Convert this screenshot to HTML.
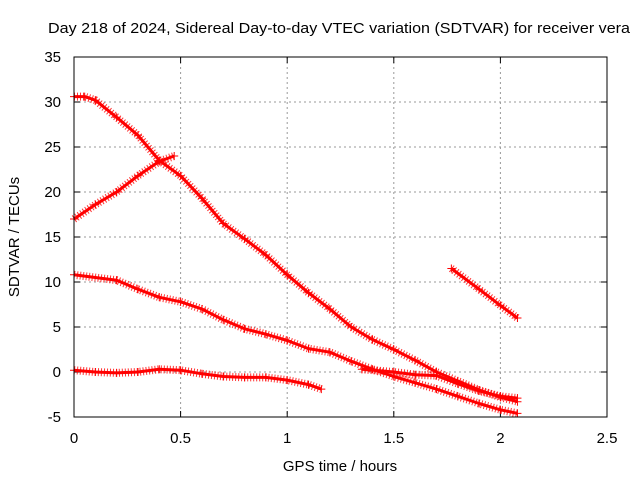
<!DOCTYPE html>
<html><head><meta charset="utf-8"><style>
body{margin:0;background:#fff;}
svg{display:block;font-family:"Liberation Sans",sans-serif;}
</style></head><body>
<svg id="chart" width="640" height="480">
<text x="339" y="33" text-anchor="middle" font-size="15" textLength="582" lengthAdjust="spacingAndGlyphs">Day 218 of 2024, Sidereal Day-to-day VTEC variation (SDTVAR) for receiver vera</text>
<text x="340" y="471" text-anchor="middle" font-size="15">GPS time / hours</text>
<text transform="translate(19,237) rotate(-90)" text-anchor="middle" font-size="15">SDTVAR / TECUs</text>
<g id="grid"></g><g id="series"></g>
<rect x="74" y="57" width="533" height="360" fill="none" stroke="#000"/>
</svg>
<script>
const xTicks=[0,0.5,1,1.5,2,2.5];
const xTickLabels=["0","0.5","1","1.5","2","2.5"];
const yTicks=[-5,0,5,10,15,20,25,30,35];
const sAx=[0,0.05,0.1,0.2,0.3,0.4,0.5,0.6,0.7,0.8,0.9,1.0,1.1,1.2,1.3,1.4,1.5,1.6,1.7,1.8,1.9,2.0,2.08];
const sAy=[30.6,30.6,30.2,28.3,26.3,23.5,21.8,19.3,16.5,14.8,13,10.8,8.8,7,5,3.6,2.5,1.3,0,-1,-2,-2.8,-3.3];
const sBx=[0,0.1,0.2,0.3,0.4,0.47];
const sBy=[17,18.6,20,21.8,23.4,24];
const sCx=[0,0.2,0.3,0.4,0.5,0.6,0.7,0.8,0.9,1.0,1.1,1.2,1.3,1.4,1.5,1.6,1.7,1.8,1.9,2.0,2.08];
const sCy=[10.8,10.2,9.2,8.3,7.8,7,5.8,4.8,4.2,3.5,2.6,2.2,1.2,0.3,-0.5,-1.2,-1.9,-2.7,-3.5,-4.2,-4.6];
const sDx=[0,0.1,0.2,0.3,0.4,0.5,0.6,0.7,0.8,0.9,1.0,1.1,1.16];
const sDy=[0.2,0,-0.1,0,0.3,0.2,-0.2,-0.5,-0.6,-0.6,-0.9,-1.4,-1.9];
const sEx=[1.77,1.9,2.0,2.08];
const sEy=[11.5,9.2,7.4,6];
const sFx=[1.35,1.5,1.6,1.7,1.8,1.9,2.0,2.08];
const sFy=[0.3,0,-0.3,-0.4,-1.3,-2.1,-2.7,-2.9];
const NS="http://www.w3.org/2000/svg";
const X=v=>74+v/2.5*533, Y=v=>417-(v+5)/40*360;
const grid=document.getElementById('grid');
function mk(t,a,p){const e=document.createElementNS(NS,t);for(const k in a)e.setAttribute(k,a[k]);p.appendChild(e);return e;}
xTicks.forEach((t,i)=>{
 if(i>0&&i<xTicks.length-1){const l=mk('line',{x1:X(t),x2:X(t),y1:57,y2:417,stroke:'#999','stroke-dasharray':'2,3'},grid);
 
 }
 mk('line',{x1:X(t),x2:X(t),y1:417,y2:411,stroke:'#000'},grid);
 mk('line',{x1:X(t),x2:X(t),y1:57,y2:63,stroke:'#000'},grid);
 const tx=mk('text',{x:X(t),y:443,'text-anchor':'middle','font-size':15},grid);tx.textContent=xTickLabels[i];
 
 
});
yTicks.forEach((t,i)=>{
 if(i>0&&i<yTicks.length-1){const l=mk('line',{x1:74,x2:607,y1:Y(t),y2:Y(t),stroke:'#999','stroke-dasharray':'2,3'},grid);
 
 }
 mk('line',{x1:74,x2:80,y1:Y(t),y2:Y(t),stroke:'#000'},grid);
 mk('line',{x1:601,x2:607,y1:Y(t),y2:Y(t),stroke:'#000'},grid);
 const tx=mk('text',{x:61,y:Y(t)+5,'text-anchor':'end','font-size':15},grid);tx.textContent=String(t);
 
 
});
const ser=document.getElementById('series');
[[sAx,sAy,'a'],[sBx,sBy,'b'],[sCx,sCy,'c'],[sDx,sDy,'d'],[sEx,sEy,'e'],[sFx,sFy,'f']].forEach(([xs,ys,n])=>{
 const g=mk('g',{},ser);
 
 
 const pts=xs.map((x,i)=>X(x)+','+Y(ys[i])).join(' ');
 mk('polyline',{points:pts,fill:'none',stroke:'#f00','stroke-width':3,'stroke-linejoin':'round'},g);
 mk('polyline',{points:pts,fill:'none',stroke:'#f00','stroke-width':8,'stroke-dasharray':'1,2','stroke-opacity':0.8},g);
 xs.forEach((x,i)=>{const p=mk('path',{d:`M${X(x)-4},${Y(ys[i])}h8M${X(x)},${Y(ys[i])-4}v8`,stroke:'#f00','stroke-width':1},g);
  
  });
});
</script>
</body></html>
